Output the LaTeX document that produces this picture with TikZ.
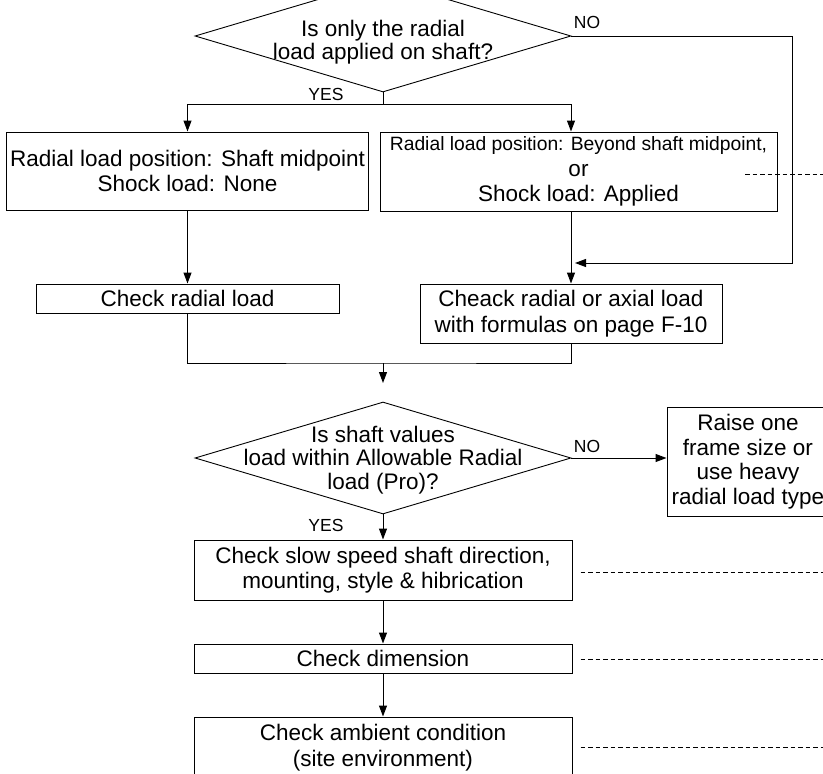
\documentclass[tikz,border=0pt]{standalone}
\usepackage{fontspec}
\setmainfont{Liberation Sans}
\usetikzlibrary{shapes.geometric,arrows.meta}
\begin{document}
\begin{tikzpicture}[x=1pt,y=-1pt,
  box/.style={draw,line width=1pt,inner sep=0pt,align=center,font=\fontsize{22.5}{25.5}\selectfont},
  dia/.style={draw,diamond,line width=0.9pt,inner sep=0pt,minimum width=376pt,minimum height=112pt},
  lbl/.style={font=\fontsize{17.5}{20}\selectfont},
  txt/.style={align=center},
  arr/.style={line width=1pt,-{Triangle[length=11pt,width=8pt]}},
  con/.style={line width=1pt},
  dsh/.style={line width=1pt,dash pattern=on 4.5pt off 3pt}]
\useasboundingbox (0,0) rectangle (823,774);
\clip (0,0) rectangle (823,774);

% decisions
\node[dia] (d1) at (383,36) {};
\node[txt,font=\fontsize{22.5}{23.5}\selectfont] (t1) at (383,42) {Is only the radial\\load applied on shaft?};
\node[dia] (d2) at (383,458) {};
\node[txt,font=\fontsize{22.5}{23.5}\selectfont] (t2) at (383,460) {Is shaft values\\load within Allowable Radial\\load (Pro)?};

% boxes
\node[box,minimum width=362pt,minimum height=78pt] (b1) at (187.5,171) {Radial load position: Shaft midpoint\\Shock load: None};
\node[box,minimum width=397pt,minimum height=79pt] (b2) at (578.5,171.5) {{\fontsize{19.3}{26}\selectfont Radial load position: Beyond shaft midpoint,}\\or\\Shock load: Applied};
\node[box,minimum width=303pt,minimum height=29pt] (b3) at (187.5,298.5) {Check radial load};
\node[box,minimum width=302pt,minimum height=59pt] (b4) at (571,313.5) {Cheack radial or axial load\\with formulas on page F-10};
\node[box,minimum width=162pt,minimum height=109pt,font=\fontsize{22.5}{24.5}\selectfont] (r) at (748,461.5) {Raise one\\frame size or\\use heavy\\radial load type};
\node[box,minimum width=378pt,minimum height=60pt] (b5) at (383,570) {Check slow speed shaft direction,\\mounting, style \& hibrication};
\node[box,minimum width=378pt,minimum height=29pt] (b6) at (383,658.5) {Check dimension};
\node[box,minimum width=378pt,minimum height=61pt] (b7) at (383,747.5) {Check ambient condition\\(site environment)};

% labels
\node[lbl] (yes1) at (326,94) {YES};
\node[lbl] (no1) at (587,22) {NO};
\node[lbl] (no2) at (587,446) {NO};
\node[lbl] (yes2) at (326,525) {YES};

% helper coordinates
\coordinate (nc) at (792,263);
\coordinate (j1) at (575,263);
\coordinate (jn) at (383,363);
\coordinate (jt) at (383,383);
\coordinate (ds) at (745,174);
\coordinate (e2) at (823,174);
\coordinate (e5) at (823,572);
\coordinate (e6) at (823,659);
\coordinate (e7) at (823,747);

% connectors
\draw[con] (d1.south) -- ++(0,12) coordinate (s1);
\draw[arr] (s1) -| (b1.north);
\draw[arr] (s1) -| (b2.north -| b4.north);
\draw[arr] (d1.east) -| (nc) -- (j1);
\draw[arr] (b1.south) -- (b3.north);
\draw[arr] (b2.south -| b4.north) -- (b4.north);
\draw[con] (b3.south) |- (jn) -| (b4.south);
\draw[arr] (jn) -- (jt);
\draw[arr] (d2.east) -- (d2.east -| r.west);
\draw[arr] (d2.south) -- (b5.north);
\draw[arr] (b5.south) -- (b6.north);
\draw[arr] (b6.south) -- (b7.north);

% dashed leaders
\draw[dsh] (ds) -- (e2);
\draw[dsh] ([xshift=8pt]b5.east |- e5) -- (e5);
\draw[dsh] ([xshift=8pt]b6.east |- e6) -- (e6);
\draw[dsh] ([xshift=8pt]b7.east |- e7) -- (e7);
\end{tikzpicture}
\end{document}
